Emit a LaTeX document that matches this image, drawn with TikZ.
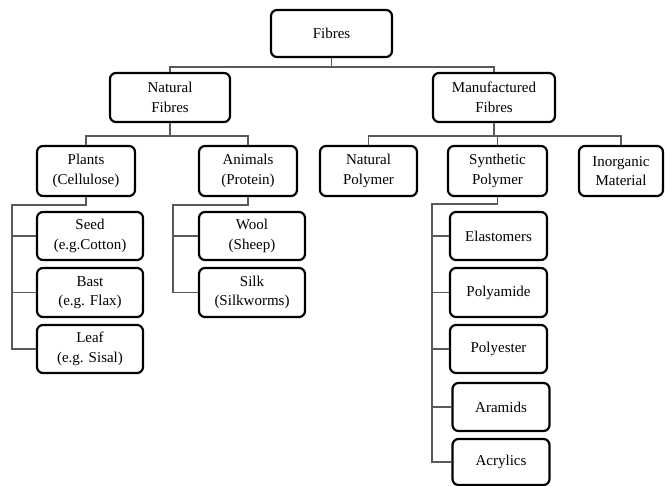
\documentclass[tikz,border=0pt]{standalone}
\usepackage{fontspec}
\setmainfont{Liberation Serif}
\begin{document}
\begin{tikzpicture}[x=1pt,y=-1pt,
  box/.style={draw=black, line width=2.2pt, rounded corners=6pt, align=center,
    inner sep=0pt, font=\fontsize{15}{19.5}\selectfont, fill=white},
  conn/.style={draw=black!65, line width=1.2pt}]
\useasboundingbox (0,0) rectangle (666,486);
% level 0
\node[box, minimum width=121, minimum height=47] (fib) at (331.5,33.5) {Fibres};
% level 1
\node[box, minimum width=120, minimum height=49] (nat) at (170,97.5) {Natural\\Fibres};
\node[box, minimum width=122, minimum height=49] (man) at (494,97.5) {Manufactured\\Fibres};
% level 2
\node[box, minimum width=98, minimum height=50] (pla) at (86,171) {Plants\\(Cellulose)};
\node[box, minimum width=98, minimum height=50] (ani) at (248,171) {Animals\\(Protein)};
\node[box, minimum width=97, minimum height=50] (npo) at (368.5,171) {Natural\\Polymer};
\node[box, minimum width=99, minimum height=50] (spo) at (497.5,171) {Synthetic\\Polymer};
\node[box, minimum width=84, minimum height=50] (ino) at (621,171) {Inorganic\\Material};
% level 3
\node[box, minimum width=106, minimum height=48] (seed) at (90,236) {Seed\\(e.g.Cotton)};
\node[box, minimum width=106, minimum height=49] (bast) at (90,292.5) {Bast\\(e.g. Flax)};
\node[box, minimum width=106, minimum height=48] (leaf) at (90,349) {Leaf\\(e.g. Sisal)};
\node[box, minimum width=106, minimum height=48] (wool) at (252,236) {Wool\\(Sheep)};
\node[box, minimum width=106, minimum height=49] (silk) at (252,292.5) {Silk\\(Silkworms)};
\node[box, minimum width=97, minimum height=48] (ela) at (498.5,236) {Elastomers};
\node[box, minimum width=97, minimum height=49] (pam) at (498.5,292.5) {Polyamide};
\node[box, minimum width=97, minimum height=48] (pes) at (498.5,349) {Polyester};
\node[box, minimum width=97, minimum height=48] (ara) at (501,407) {Aramids};
\node[box, minimum width=97, minimum height=46] (acr) at (501,462) {Acrylics};
% connectors
\draw[conn] (fib.south) -- ++(0,9) -| (nat.north);
\draw[conn] (fib.south) -- ++(0,9) -| (man.north);
\draw[conn] (nat.south) -- ++(0,13) -| (pla.north);
\draw[conn] (nat.south) -- ++(0,13) -| (ani.north);
\draw[conn] (man.south) -- ++(0,13) -| (npo.north);
\draw[conn] (man.south) -- ++(0,13) -| (spo.north);
\draw[conn] (man.south) -- ++(0,13) -| (ino.north);
\coordinate (pv) at (12,205);
\draw[conn] (pla.south) |- (pv) |- (leaf.west);
\draw[conn] (pv |- seed.west) -- (seed.west);
\draw[conn] (pv |- bast.west) -- (bast.west);
\coordinate (av) at (173,205);
\draw[conn] (ani.south) |- (av) |- (silk.west);
\draw[conn] (av |- wool.west) -- (wool.west);
\coordinate (sv) at (432,204);
\draw[conn] (spo.south) |- (sv) |- (acr.west);
\draw[conn] (sv |- ela.west) -- (ela.west);
\draw[conn] (sv |- pam.west) -- (pam.west);
\draw[conn] (sv |- pes.west) -- (pes.west);
\draw[conn] (sv |- ara.west) -- (ara.west);
\end{tikzpicture}
\end{document}
